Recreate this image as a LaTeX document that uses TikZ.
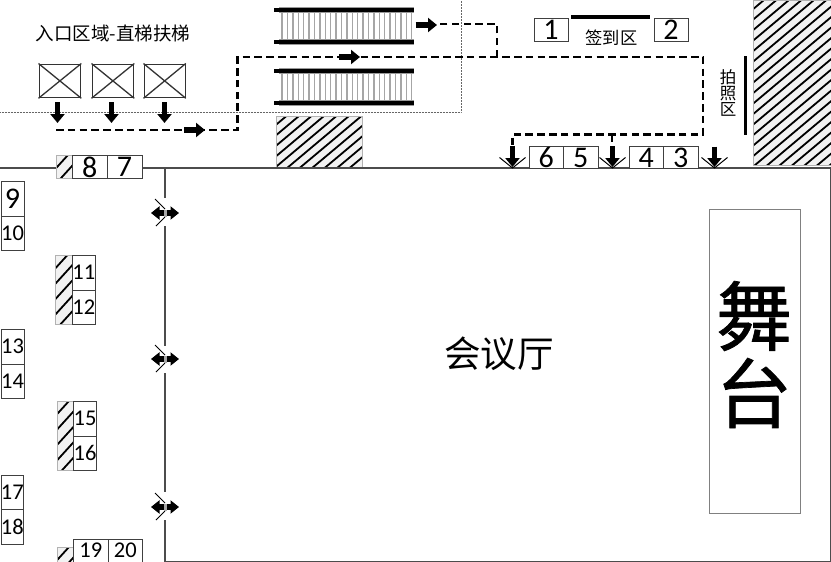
\documentclass[tikz,border=0pt]{standalone}
\usepackage{fontspec}
\setmainfont{Carlito}
\newfontfamily\cjk{Noto Sans CJK SC}
\newfontfamily\cjkb[FakeBold=0.9]{Noto Sans CJK SC}
\usetikzlibrary{arrows.meta}
\definecolor{wallc}{gray}{0.3}
\definecolor{boxc}{gray}{0.25}
\tikzset{
  x=1pt,y=-1pt,
  wall/.style={draw=wallc,line width=1.2pt},
  booth/.style={draw=boxc,line width=1pt,fill=white,minimum width=0pt,minimum height=0pt,inner sep=0pt,anchor=north west,font=\fontsize{30}{30}\selectfont},
  boothsm/.style={booth,font=\fontsize{22.5}{22.5}\selectfont},
  lift/.style={draw=black!80,line width=1.3pt},
  route/.style={line width=2.1pt,dash pattern=on 7.5pt off 4.3pt},
  fatarrow/.style={line width=5.5pt,-{Triangle[length=9pt,width=14pt]}},
  halfarrow/.style={line width=6pt,-{Triangle[length=8.5pt,width=13pt]}},
  doorleaf/.style={line width=1pt},
  rail/.style={line width=3.4pt,line cap=butt},
  tread/.style={draw=black!35,line width=1.4pt},
  hatchline/.style={line width=1.8pt},
  label/.style={font=\cjk\fontsize{17.3}{17.3}\selectfont,inner sep=0pt},
}
\newcommand{\hatchbox}[6]{% x0 y0 x1 y1 step slope
  \begin{scope}
    \clip (#1,#2) rectangle (#3,#4);
    \fill[black!5] (#1,#2) rectangle (#3,#4);
    \pgfmathsetmacro{\hh}{(#4-#2)*1.2+20}
    \pgfmathsetmacro{\hstart}{#1-2}
    \pgfmathsetmacro{\hnext}{#1-2+#5}
    \pgfmathsetmacro{\hend}{#3+\hh}
    \foreach \q in {\hstart,\hnext,...,\hend}
      \draw[hatchline] (\q,#2) -- ++(-\hh,\hh*#6);
  \end{scope}
  \draw[draw=black!30,line width=0.8pt] (#1,#2) rectangle (#3,#4);
}
\newcommand{\escal}[2]{% top rail y, bottom rail y
  \foreach \q in {282,287.4,...,414}
    \draw[tread] (\q,#1) -- (\q,#2);
  \draw[rail,draw=black!40,line width=6pt] (279,#1) -- (414,#1);
  \draw[rail,draw=black!40,line width=6pt] (279,#2) -- (414,#2);
  \draw[rail] (274,#1) -- (414,#1);
  \draw[rail] (274,#2) -- (414,#2);
}
\begin{document}
\begin{tikzpicture}
\useasboundingbox (0,0) rectangle (831,562);
\fill[white] (0,0) rectangle (831,562);

% dotted zone
\coordinate (zoneL) at (0,112);
\coordinate (zoneC) at (461,112);
\coordinate (zoneT) at (461,0);
\draw[black!60,line width=0.5pt,densely dotted] (zoneL) -- (zoneC) -- (zoneT);

% hatched blocks
\hatchbox{276}{116}{362.5}{167}{12.5}{0.84}
\hatchbox{753.5}{0}{831}{165}{12.5}{0.84}

% walls
\coordinate (wallA) at (0,168);
\coordinate (wallB) at (165,168);
\coordinate (wallC) at (830.5,168);
\coordinate (wallD) at (830.5,561.5);
\coordinate (wallE) at (165,561.5);
\draw[wall] (wallA) -- (wallC) -- (wallD) -- (wallE);
\draw[wall] (wallB) -- (165,198);
\draw[wall] (165,226) -- (165,346);
\draw[wall] (165,373) -- (165,492);
\draw[wall] (165,520) -- (wallE);

% escalators
\escal{10}{42}
\escal{71}{103}

% lifts
\foreach \n/\a/\b in {1/38.5/80,2/91.5/133,3/143.5/184.5}{
  \node[lift,minimum width=\b pt-\a pt,minimum height=33.5pt,inner sep=0pt,anchor=north west] (lift\n) at (\a,63.5) {};
  \draw[lift] (lift\n.north west) -- (lift\n.south east);
  \draw[lift] (lift\n.north east) -- (lift\n.south west);
}
\node[label,font=\cjk\fontsize{18.5}{18.5}\selectfont] (entry) at (113,33) {入口区域-直梯扶梯};

% route
\coordinate (r0) at (56,130);
\coordinate (r1) at (237.5,130);
\coordinate (r2) at (237.5,57);
\coordinate (r3) at (703,57);
\coordinate (r4) at (703,134.5);
\coordinate (r5) at (512.5,134.5);
\coordinate (r6) at (512.5,146);
\coordinate (r7) at (612,134.5);
\coordinate (r8) at (612,144);
\coordinate (r9) at (497,57);
\coordinate (r10) at (497,24);
\coordinate (r11) at (437,24);
\draw[route] (r0) -- (r1) -- (r2) -- (r3) -- (r4) -- (r5) -- (r6);
\draw[route] (r7) -- (r8);
\draw[route] (r9) -- (r10) -- (r11);

% arrows on the route and from the lifts
\foreach \n/\x in {1/57.5,2/111.5,3/164.5}{
  \coordinate (da\n) at (\x,102);
  \coordinate (db\n) at (\x,123);
  \draw[fatarrow] (da\n) -- (db\n);
}
\coordinate (ra1) at (184,130); \coordinate (rb1) at (205,130);
\draw[fatarrow] (ra1) -- (rb1);
\coordinate (ra2) at (339,57); \coordinate (rb2) at (360,57);
\draw[fatarrow] (ra2) -- (rb2);
\coordinate (ra3) at (415.5,25); \coordinate (rb3) at (437,25);
\draw[fatarrow] (ra3) -- (rb3);

% top doors
\foreach \n/\x/\t in {1/512.5/146,2/612.5/146,3/714.5/146.5}{
  \coordinate (dA\n) at (\x-13,157.5);
  \coordinate (dB\n) at (\x,168);
  \coordinate (dC\n) at (\x+13,157.5);
  \draw[doorleaf] (dA\n) -- (dB\n) -- (dC\n);
  \coordinate (ta\n) at (\x,\t);
  \coordinate (tb\n) at (\x,167);
  \draw[fatarrow] (ta\n) -- (tb\n);
}

% side doors
\foreach \n/\y in {1/213,2/359,3/507}{
  \coordinate (sA\n) at (155,\y-14);
  \coordinate (sB\n) at (165,\y-4);
  \coordinate (sC\n) at (165,\y+4);
  \coordinate (sD\n) at (156,\y+13);
  \draw[doorleaf] (sA\n) -- (sB\n);
  \draw[doorleaf] (sC\n) -- (sD\n);
  \coordinate (lc\n) at (165,\y);
  \coordinate (la\n) at (151,\y);
  \coordinate (lb\n) at (179,\y);
  \draw[halfarrow] (lc\n) -- (la\n);
  \draw[halfarrow] (lc\n) -- (lb\n);
  \fill[black!35] (163.5,\y-3.5) rectangle (166.5,\y+3.5);
}

% booths with hatching
\hatchbox{56}{155}{72}{178}{14}{1.1}
\hatchbox{55.5}{255}{72}{324}{14}{1.1}
\hatchbox{57}{401}{73}{470}{14}{1.1}
\hatchbox{57}{547}{73}{563}{14}{1.1}

\newcommand{\booth}[7]{% name x y w h style text
  \node[#6,minimum width=#4pt,minimum height=#5pt] (#1) at (#2,#3) {\makebox[0pt][c]{#7}};}
\booth{b1}{533.5}{18}{34}{23}{booth}{1}
\booth{b2}{653.5}{18}{34}{23}{booth}{2}
\booth{b3}{663}{146}{34.5}{22}{booth}{3}
\booth{b4}{628.5}{146}{34.5}{22}{booth}{4}
\booth{b5}{563}{146}{34.5}{22}{booth}{5}
\booth{b6}{528.5}{146}{34.5}{22}{booth}{6}
\booth{b7}{106.5}{155}{35}{23}{booth}{7}
\booth{b8}{72}{155}{34.5}{23}{booth}{8}
\booth{b9}{0.5}{181}{23}{34.5}{booth}{9}
\booth{b10}{0.5}{215.5}{23}{34.5}{boothsm}{10}
\booth{b11}{72}{255}{22.5}{34.5}{boothsm}{11}
\booth{b12}{72}{289.5}{22.5}{34.5}{boothsm}{12}
\booth{b13}{0.5}{329}{23}{34.5}{boothsm}{13}
\booth{b14}{0.5}{363.5}{23}{34.5}{boothsm}{14}
\booth{b15}{73}{401}{23}{34.5}{boothsm}{15}
\booth{b16}{73}{435.5}{23}{34.5}{boothsm}{16}
\booth{b17}{0.5}{474.5}{22.5}{34.5}{boothsm}{17}
\booth{b18}{0.5}{509}{22.5}{34.5}{boothsm}{18}
\booth{b19}{73}{538.5}{34.5}{23}{boothsm}{19}
\booth{b20}{107.5}{538.5}{34.5}{23}{boothsm}{20}

% sign-in and photo
\coordinate (barA) at (571,17);
\coordinate (barB) at (650,17);
\draw[line width=3.5pt] (barA) -- (barB);
\node[label] (signin) at (611.5,38) {签到区};
\coordinate (photoA) at (745.5,56);
\coordinate (photoB) at (745.5,135);
\draw[line width=3.5pt] (photoA) -- (photoB);
\node[label,align=center,font=\cjk\fontsize{16.5}{16.5}\selectfont] (photo) at (728,92.5) {拍\\[-0.5pt]照\\[-0.5pt]区};

% hall and stage
\node[label,font=\cjk\fontsize{36.5}{36.5}\selectfont] (hall) at (499,354) {会议厅};
\node[draw=black!50,line width=0.8pt,minimum width=91pt,minimum height=304pt,inner sep=0pt,anchor=north west] (stage) at (709,208.5) {};
\node[label,font=\cjkb\fontsize{76}{76}\selectfont] (stage1) at (754,316) {舞};
\node[label,font=\cjkb\fontsize{76}{76}\selectfont] (stage2) at (754,393) {台};
\end{tikzpicture}
\end{document}
